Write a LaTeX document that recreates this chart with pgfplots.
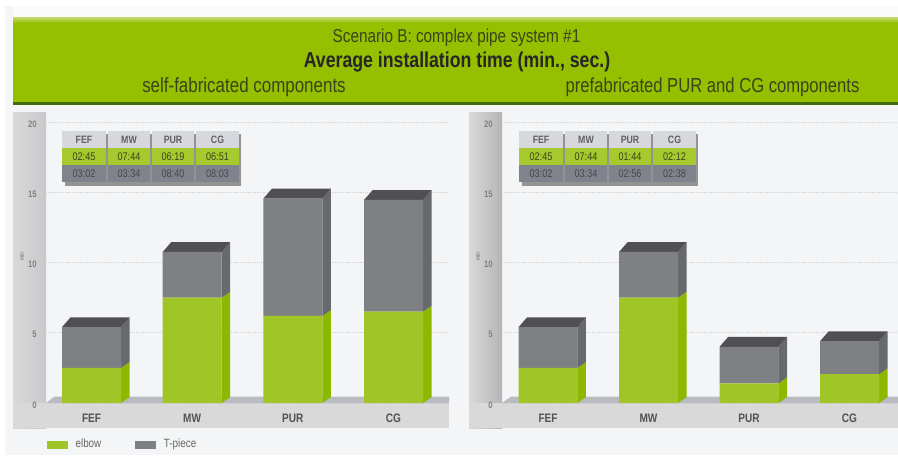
\documentclass[border=0pt]{standalone}
\usepackage{pgfplots}
\pgfplotsset{compat=1.18}
\usepackage{fontspec}
\setmainfont[FakeStretch=0.82]{Liberation Sans}
\definecolor{banner}{HTML}{96BF00}
\definecolor{bannerdark}{HTML}{3F6B0A}
\definecolor{page}{HTML}{F4F5F6}
\definecolor{wall}{HTML}{C9C9CB}
\definecolor{band}{HTML}{D9D9DA}
\definecolor{floorc}{HTML}{BABBC0}
\definecolor{greenf}{HTML}{9FC526}
\definecolor{greens}{HTML}{8DB800}
\definecolor{grayf}{HTML}{7F8084}
\definecolor{grays}{HTML}{68696D}
\definecolor{topc}{HTML}{505052}
\definecolor{hdr}{HTML}{D6D8DE}
\definecolor{rowg}{HTML}{A6C92E}
\definecolor{rowd}{HTML}{7F838C}
\definecolor{inktxt}{HTML}{38451A}
% side and top faces of one 3D bar: centre, elbow value, total value
\newcommand{\sides}[3]{%
  \pgfmathsetmacro{\xa}{#1+0.293}\pgfmathsetmacro{\xb}{#1+0.378}%
  \pgfmathsetmacro{\xc}{#1-0.293}\pgfmathsetmacro{\xd}{#1-0.208}%
  \pgfmathsetmacro{\ya}{#2+0.42}\pgfmathsetmacro{\yb}{#3+0.70}%
  \addplot[fill=greens,draw=none] coordinates {(\xa,0) (\xb,0.42) (\xb,\ya) (\xa,#2)} --cycle;
  \addplot[fill=grays,draw=none] coordinates {(\xa,#2) (\xb,\ya) (\xb,\yb) (\xa,#3)} --cycle;
  \addplot[fill=topc,draw=none] coordinates {(\xc,#3) (\xd,\yb) (\xb,\yb) (\xa,#3)} --cycle;
}
\pgfplotsset{
  base/.style={
    scale only axis, height=210.75pt, ymin=0, ymax=20,
    axis line style={draw=none}, anchor=south west,
    tick style={draw=none}, clip=true},
  back/.style={base,
    ytick={0,5,10,15,20}, ymajorgrids,
    grid style={densely dotted,draw=black!17,line width=0.6pt},
    xtick={0,1,2,3}, xticklabels={FEF,MW,PUR,CG},
    xticklabel style={font=\bfseries\fontsize{9.2}{10}\selectfont,text=black!68,yshift=-4.5pt},
    yticklabel style={font=\bfseries\fontsize{7}{8}\selectfont,text=black!50,yshift=-1.5pt,xshift=-3.5pt},
    /pgf/number format/assume math mode=true,
    ylabel={min}, ylabel style={font=\fontsize{4.5}{5}\selectfont,text=black!60,yshift=13pt,at={(rel axis cs:0,0.52)}}},
  front/.style={base, hide axis, ybar stacked, bar width=44.25pt, xtick=\empty}
}
\newcommand{\insettable}[9]{%
 % #1 x origin, #2..#5 green row, #6..#9 gray row
 \begin{scope}[shift={(#1,0)}]
  \fill[black!55,opacity=.75] (3,134) rectangle (179,186);
  \foreach \xl/\xr/\h in {0/44/FEF,46/88/MW,90/132/PUR,134/177/CG}{
    \fill[hdr] (\xl,131) rectangle (\xr,148);
    \node[font=\bfseries\fontsize{8}{9}\selectfont,text=black!62] at ({(\xl+\xr)/2},140) {\h};
  }
  \foreach \xl/\xr/\v in {0/44/#2,46/88/#3,90/132/#4,134/177/#5}{
    \fill[rowg] (\xl,148) rectangle (\xr,165);
    \node[font=\fontsize{8.3}{9}\selectfont,text=inktxt] at ({(\xl+\xr)/2},157) {\v};
  }
  \foreach \xl/\xr/\v in {0/44/#6,46/88/#7,90/132/#8,134/177/#9}{
    \fill[rowd] (\xl,165) rectangle (\xr,182);
    \node[font=\fontsize{8.3}{9}\selectfont,text=black!72] at ({(\xl+\xr)/2},174) {\v};
  }
 \end{scope}}
\begin{document}
\begin{tikzpicture}[x=0.75pt,y=-0.75pt]
\path[use as bounding box] (0,0) rectangle (898,455);
\fill[white] (0,0) rectangle (898,455);
\fill[page] (5,6) rectangle (898,455);
\fill[white!60!page] (13,6) rectangle (898,18);
% banner
\shade[top color=banner!55!white,bottom color=banner] (13,17) rectangle (898,23);
\fill[banner] (13,23) rectangle (898,102);
\fill[bannerdark] (13,102) rectangle (898,104.5);
\node[font=\fontsize{14}{15}\selectfont,text=inktxt] at (456.5,38) {Scenario B: complex pipe system \#1};
\node[font=\bfseries\fontsize{16.2}{17}\selectfont,text=black!85] at (457,62) {Average installation time (min., sec.)};
\node[font=\fontsize{15.5}{16}\selectfont,text=inktxt] at (244,87.5) {self-fabricated components};
\node[font=\fontsize{15.2}{16}\selectfont,text=inktxt] at (712.5,87.5) {prefabricated PUR and CG components};
% panels
\shade[left color=wall!70!white,right color=wall] (13,112) rectangle (46,428);
\fill[band] (13,403) rectangle (449,428);
\shade[left color=wall!70!white,right color=wall!90!black] (469,112) rectangle (502,428);
\fill[band] (469,403) rectangle (898,428);
% left chart
\begin{axis}[back, at={(34.5pt,-302.25pt)}, width=302.25pt, xmin=-0.452, xmax=3.551]
\addplot[fill=floorc,draw=none] coordinates {(-0.452,0) (-0.37,0.45) (3.551,0.45) (3.551,0)} --cycle;
\sides{0}{2.5}{5.4}
\sides{1}{7.5}{10.75}
\sides{2}{6.2}{14.55}
\sides{3}{6.5}{14.45}
\end{axis}
\begin{axis}[front, at={(34.5pt,-302.25pt)}, width=302.25pt, xmin=-0.452, xmax=3.551,
  clip=false,
  legend columns=2,
  legend style={draw=none,fill=none,at={(0,0)},anchor=north west,xshift=-2.5pt,yshift=-23pt,
    font=\fontsize{9}{10}\selectfont,text=black!60,
    /tikz/every odd column/.style={column sep=3.75pt},
    /tikz/every even column/.style={column sep=23.5pt}},
  legend image code/.code={\fill[#1] (0cm,-3pt) rectangle (15.75pt,3pt);}]
\addplot[fill=greenf,draw=none] coordinates {(0,2.5) (1,7.5) (2,6.2) (3,6.5)};
\addplot[fill=grayf,draw=none] coordinates {(0,2.9) (1,3.25) (2,8.35) (3,7.95)};
\legend{elbow,T-piece}
\end{axis}
% right chart
\begin{axis}[back, at={(376.5pt,-302.25pt)}, width=297pt, xmin=-0.4577, xmax=3.4826]
\addplot[fill=floorc,draw=none] coordinates {(-0.4577,0) (-0.37,0.45) (3.4826,0.45) (3.4826,0)} --cycle;
\sides{0}{2.5}{5.4}
\sides{1}{7.5}{10.75}
\sides{2}{1.4}{4.0}
\sides{3}{2.05}{4.4}
\end{axis}
\begin{axis}[front, at={(376.5pt,-302.25pt)}, width=297pt, xmin=-0.4577, xmax=3.4826]
\addplot[fill=greenf,draw=none] coordinates {(0,2.5) (1,7.5) (2,1.4) (3,2.05)};
\addplot[fill=grayf,draw=none] coordinates {(0,2.9) (1,3.25) (2,2.6) (3,2.35)};
\end{axis}
\insettable{62}{02:45}{07:44}{06:19}{06:51}{03:02}{03:34}{08:40}{08:03}
\insettable{519}{02:45}{07:44}{01:44}{02:12}{03:02}{03:34}{02:56}{02:38}
\end{tikzpicture}
\end{document}
